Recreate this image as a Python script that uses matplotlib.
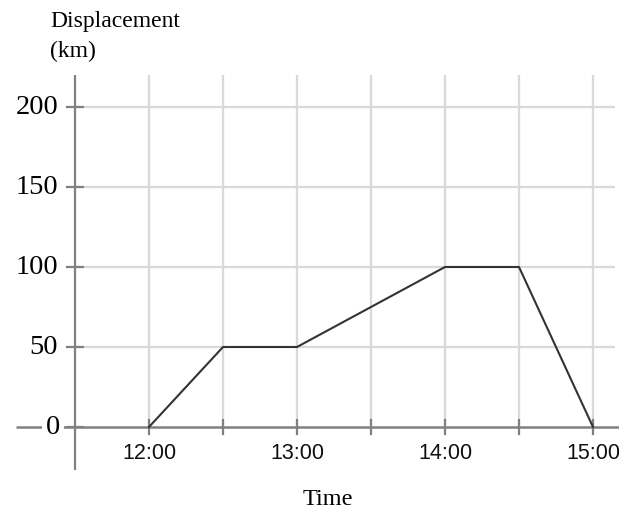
import matplotlib.pyplot as plt

# data
times = [12.0, 12.5, 13.0, 14.0, 14.5, 15.0]
displacement = [0, 50, 50, 100, 100, 0]
x_grid = [12.0, 12.5, 13.0, 13.5, 14.0, 14.5, 15.0]
x_labels = ['12:00', '13:00', '14:00', '15:00']
x_label_pos = [12.0, 13.0, 14.0, 15.0]
y_ticks = [0, 50, 100, 150, 200]

W, H = 619, 511
fig = plt.figure(figsize=(W / 100, H / 100), dpi=100)
ax = fig.add_axes([0, 0, 1, 1])

# pixel mapping: 12:00 at x=149, 148 px per hour; 0 km at y=427, 1.6 px per km
x0 = 12 - 149 / 148
x1 = 12 + (W - 149) / 148
y0 = -(H - 427) / 1.6
y1 = 427 / 1.6
ax.set_xlim(x0, x1)
ax.set_ylim(y0, y1)
ax.axis('off')

grid_c = '#d9d9d9'
axis_c = '#808080'
x_left = 11.5
x_right = 15.149
y_top = 220

# gridlines
for t in x_grid:
    ax.plot([t, t], [0, y_top], color=grid_c, lw=1.6, zorder=1, solid_capstyle='butt')
for v in y_ticks[1:]:
    ax.plot([x_left, x_right], [v, v], color=grid_c, lw=1.6, zorder=1, solid_capstyle='butt')

# axes
ax.plot([x_left, x_left], [-27, y_top], color=axis_c, lw=1.6, zorder=2, solid_capstyle='butt')
ax.plot([11.10, x1], [0, 0], color=axis_c, lw=1.8, zorder=2, solid_capstyle='butt')

# ticks
for v in y_ticks:
    ax.plot([x_left - 0.054, x_left + 0.054], [v, v], color=axis_c, lw=1.6, zorder=2)
for t in x_grid:
    ax.plot([t, t], [-4.5, 4.5], color=axis_c, lw=1.6, zorder=2)

# tick labels
for v in y_ticks:
    xpos = 11.40 if v == 0 else 11.387
    ax.text(xpos, v, str(v), ha='right', va='center', fontsize=20.5,
            family='Liberation Serif', color='#000000', zorder=4,
            bbox=dict(facecolor='white', edgecolor='none', pad=3) if v == 0 else None)
for t, lab in zip(x_label_pos, x_labels):
    ax.text(t, -16.5, lab, ha='center', va='center', fontsize=15.5,
            family='Liberation Sans', color='#111111')

# data line
ax.plot(times, displacement, color='#333333', lw=1.5, zorder=3)

# axis titles
fig.text(50 / W, 1 - 27 / H, 'Displacement', ha='left', va='baseline',
         fontsize=17, family='Liberation Serif', color='#000000')
fig.text(50 / W, 1 - 57 / H, '(km)', ha='left', va='baseline',
         fontsize=17, family='Liberation Serif', color='#000000')
fig.text(328 / W, 1 - 499 / H, 'Time', ha='center', va='center',
         fontsize=17.5, family='Liberation Serif', color='#000000')

fig.savefig('out.png', dpi=100)
